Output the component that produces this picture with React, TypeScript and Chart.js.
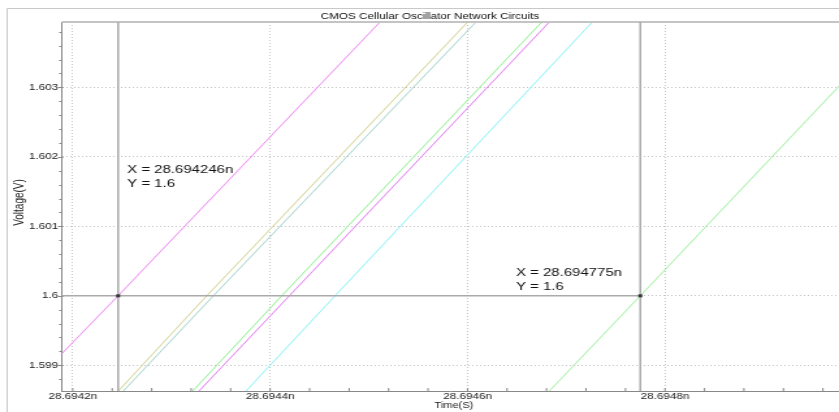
import React, { useEffect, useRef } from 'react';
import { Chart, registerables } from 'chart.js';

Chart.register(...registerables);

// The reference picture is horizontally stretched; draw at internal width W and stretch to 839.
const W = 645;
const H = 412;
const STRETCH = 839 / W;
const FONT = '"Liberation Sans", Arial, sans-serif';

// ---- data ----
const chartTitle = 'CMOS Cellular Oscillator Network Circuits';
const xAxisTitle = 'Time(S)';
const yAxisTitle = 'Voltage(V)';

const xMin = 28.6941892;
const xMax = 28.6949763;
const yMin = 1.59863;
const yMax = 1.60394;

const xTicks = [28.6942, 28.6944, 28.6946, 28.6948];
const yTicks = [1.599, 1.6, 1.601, 1.602, 1.603];

// voltage at which each time sample was read
const voltageSamples = [1.59863, 1.6, 1.60394];

const sig1 = [28.6941521, 28.694246, 28.6945113];
const sig2 = [28.6942462, 28.6943358, 28.6946002];
const sig3 = [28.6942513, 28.6943425, 28.6946086];
const sig4 = [28.6943216, 28.6944118, 28.6946752];
const sig5 = [28.694328, 28.6944195, 28.6946829];
const sig6 = [28.6943756, 28.6944658, 28.6947264];
const sig7 = [28.6946829, 28.694775, 28.695038];

const seriesTimes = [sig1, sig2, sig3, sig4, sig5, sig6, sig7];
const seriesNames = ['v1', 'v2', 'v3', 'v4', 'v5', 'v6', 'v7'];
const seriesColors = ['#ee88f4', '#d2d290', '#a4d4cc', '#92f092', '#e47cf4', '#8cf2f6', '#a0f0a0'];

const cursorTimes = [28.694246, 28.694775];
const cursorLevel = 1.6;
const cursorLabels = [
  ['X = 28.694246n', 'Y = 1.6'],
  ['X = 28.694775n', 'Y = 1.6'],
];

const decorPlugin = {
  id: 'decor',
  beforeDraw(chart: any) {
    const ctx = chart.ctx;
    ctx.save();
    ctx.fillStyle = '#ffffff';
    ctx.fillRect(0, 0, chart.width, chart.height);
    ctx.restore();
  },
  afterDatasetsDraw(chart: any) {
    const ctx = chart.ctx;
    const { left, right, top, bottom } = chart.chartArea;
    const xs = chart.scales.x;
    const ys = chart.scales.y;
    ctx.save();

    // outer frame
    ctx.strokeStyle = '#c8c8c8';
    ctx.lineWidth = 1;
    ctx.beginPath();
    ctx.moveTo(5.5, H);
    ctx.lineTo(5.5, 8.5);
    ctx.lineTo(W, 8.5);
    ctx.stroke();

    // plot top border
    ctx.strokeStyle = '#c4c4c4';
    ctx.lineWidth = 2;
    ctx.beginPath();
    ctx.moveTo(left, top);
    ctx.lineTo(right, top);
    ctx.stroke();

    // minor / major ticks
    ctx.strokeStyle = '#888888';
    ctx.lineWidth = 1;
    const ys0 = yTicks[0];
    const yStep = (yTicks[1] - yTicks[0]) / 5;
    for (let k = Math.ceil((yMin - ys0) / yStep); ys0 + k * yStep <= yMax; k++) {
      const v = ys0 + k * yStep;
      const py = Math.round(ys.getPixelForValue(v)) + 0.5;
      const major = k % 5 === 0;
      ctx.beginPath();
      ctx.moveTo(left - (major ? 3.2 : 2.2), py);
      ctx.lineTo(left + (major ? 1 : 0), py);
      ctx.stroke();
    }
    const xs0 = xTicks[0];
    const xStep = (xTicks[1] - xTicks[0]) / 5;
    for (let k = Math.ceil((xMin - xs0) / xStep); xs0 + k * xStep <= xMax; k++) {
      const v = xs0 + k * xStep;
      const px = xs.getPixelForValue(v);
      ctx.beginPath();
      ctx.moveTo(px, bottom);
      ctx.lineTo(px, bottom - 3);
      ctx.stroke();
    }

    // cursors
    const cy = ys.getPixelForValue(cursorLevel);
    const cxs = cursorTimes.map((t) => xs.getPixelForValue(t));
    ctx.strokeStyle = '#aaaaaa';
    ctx.lineWidth = 1.5;
    cxs.forEach((cx) => {
      ctx.beginPath();
      ctx.moveTo(cx, top);
      ctx.lineTo(cx, bottom);
      ctx.stroke();
    });
    ctx.beginPath();
    ctx.moveTo(left, cy);
    ctx.lineTo(Math.max(...cxs), cy);
    ctx.stroke();
    ctx.fillStyle = '#333333';
    cxs.forEach((cx) => ctx.fillRect(cx - 1.5, cy - 1.5, 3, 3));

    // cursor labels
    ctx.fillStyle = '#111111';
    ctx.font = `11.5px ${FONT}`;
    ctx.textBaseline = 'middle';
    ctx.textAlign = 'left';
    const offs = [
      { dx: 7, dy: -125.7 },
      { dx: -95.6, dy: -22.7 },
    ];
    cursorLabels.forEach((lines, i) => {
      const o = offs[i];
      ctx.fillText(lines[0], cxs[i] + o.dx, cy + o.dy);
      ctx.fillText(lines[1], cxs[i] + o.dx, cy + o.dy + 13.7);
    });

    // title
    ctx.fillStyle = '#111111';
    ctx.font = `9px ${FONT}`;
    ctx.textAlign = 'center';
    ctx.fillText(chartTitle, 330.6, 16.5);

    // axis titles
    ctx.fillStyle = '#222222';
    ctx.font = `8.5px ${FONT}`;
    ctx.fillText(xAxisTitle, 349, 406);
    ctx.save();
    ctx.translate(15, 202.5);
    ctx.rotate(-Math.PI / 2);
    ctx.font = `10px ${FONT}`;
    ctx.fillText(yAxisTitle, 0, 0);
    ctx.restore();

    ctx.restore();
  },
};

export default function App() {
  const ref = useRef<HTMLCanvasElement | null>(null);

  useEffect(() => {
    if (!ref.current) return;
    const datasets = seriesTimes.map((times, i) => ({
      label: seriesNames[i],
      data: times.map((t, j) => ({ x: t, y: voltageSamples[j] })),
      borderColor: seriesColors[i],
      backgroundColor: seriesColors[i],
      borderWidth: 1,
      pointRadius: 0,
      fill: false,
      tension: 0,
    }));
    const chart = new Chart(ref.current, {
      type: 'line',
      data: { datasets },
      plugins: [decorPlugin],
      options: {
        animation: false,
        responsive: false,
        devicePixelRatio: 1,
        parsing: true,
        layout: { padding: { top: 22, left: 0, right: 0, bottom: 0 } },
        plugins: {
          legend: { display: false },
          tooltip: { enabled: false },
          title: { display: false },
        },
        scales: {
          x: {
            type: 'linear',
            min: xMin,
            max: xMax,
            afterBuildTicks: (s: any) => {
              s.ticks = xTicks.map((v) => ({ value: v }));
            },
            afterFit: (s: any) => {
              s.height = 21;
            },
            ticks: {
              autoSkip: false,
              maxRotation: 0,
              padding: 0,
              color: '#222222',
              font: { family: FONT, size: 9 },
              callback: (v: any) => Number(v).toFixed(4) + 'n',
            },
            grid: { color: '#c4c4c4', lineWidth: 1, drawTicks: false },
            border: { color: '#888888', width: 1, dash: [1, 2] },
          },
          y: {
            type: 'linear',
            min: yMin,
            max: yMax,
            afterBuildTicks: (s: any) => {
              s.ticks = yTicks.map((v) => ({ value: v }));
            },
            afterFit: (s: any) => {
              s.width = 47.7;
            },
            ticks: {
              autoSkip: false,
              padding: 3,
              color: '#222222',
              font: { family: FONT, size: 9 },
              callback: (v: any) => String(v),
            },
            grid: { color: '#c4c4c4', lineWidth: 1, drawTicks: false },
            border: { color: '#888888', width: 1, dash: [1, 2] },
          },
        },
      },
    });
    return () => chart.destroy();
  }, []);

  return (
    <div style={{ position: 'fixed', left: 0, top: 0, width: 839, height: 412, overflow: 'hidden', background: '#fff' }}>
      <div style={{ width: W, height: H, transform: `scaleX(${STRETCH})`, transformOrigin: '0 0' }}>
        <canvas ref={ref} width={W} height={H} style={{ width: W, height: H, display: 'block' }} />
      </div>
    </div>
  );
}
